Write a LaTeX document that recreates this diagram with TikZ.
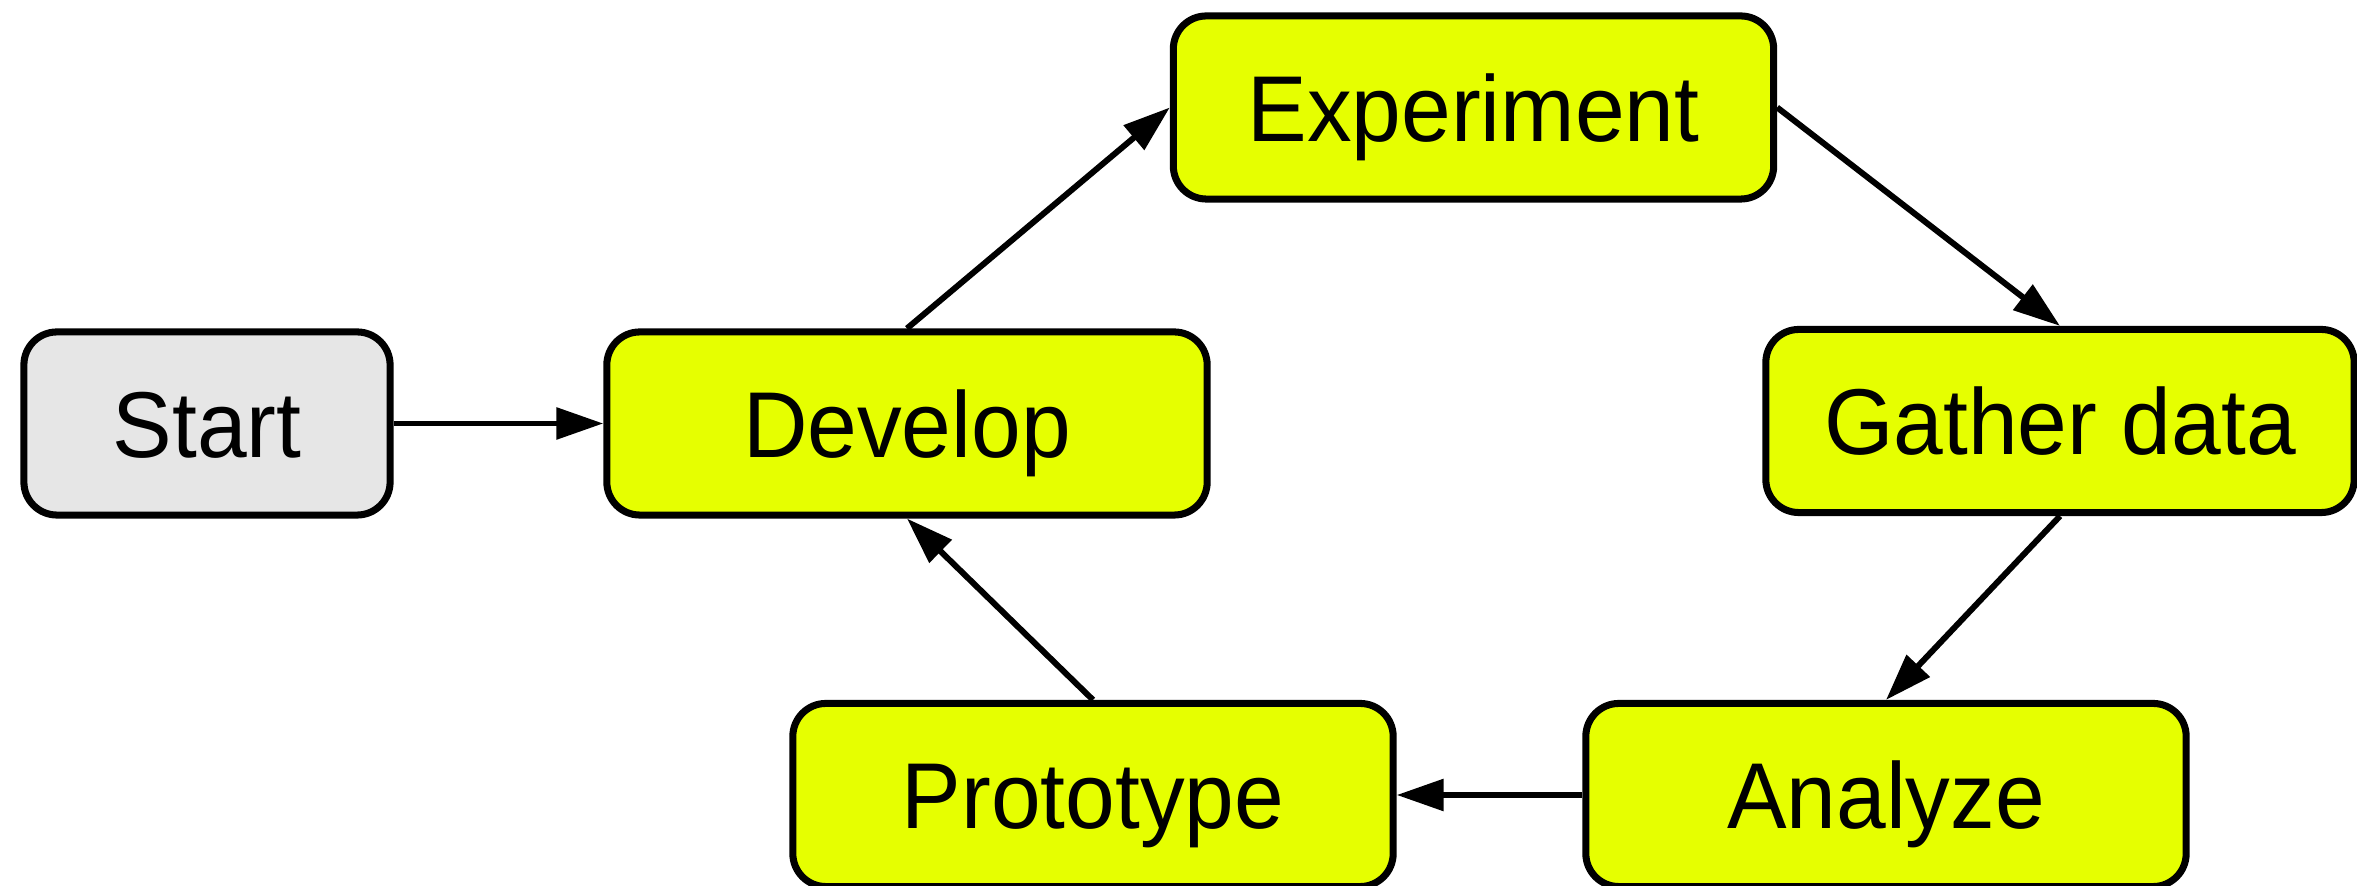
\documentclass[tikz,border=0pt]{standalone}
\usepackage{fontspec}
\setmainfont{Liberation Sans}
\newfontfamily\boxfont{Liberation Sans}[FakeStretch=0.955]
\usetikzlibrary{arrows.meta}
\definecolor{boxyellow}{RGB}{230,255,0}
\definecolor{boxgrey}{RGB}{230,230,230}
\tikzset{
  flowbox/.style={draw=black, line width=2pt, rounded corners=0.33cm, fill=boxyellow,
    minimum width=6.0cm, minimum height=1.83cm, inner sep=0pt,
    text height=19.1pt, text depth=0pt,
    font=\boxfont\fontsize{26.6pt}{30pt}\selectfont},
  startbox/.style={flowbox, fill=boxgrey, minimum width=3.66cm},
  conn/.style={draw=black, line width=1.7pt, -{Triangle[length=0.47cm,width=0.31cm]}}
}
\begin{document}
\begin{tikzpicture}[x=0.01cm,y=-0.01cm]
\useasboundingbox (0,0) rectangle (2357,886);
\node[startbox] (start) at (207,423.5) {Start};
\node[flowbox] (develop) at (907,423.5) {Develop};
\node[flowbox] (experiment) at (1473.5,107.5) {Experiment};
\node[flowbox, minimum width=5.88cm] (gather) at (2060,421) {Gather data};
\node[flowbox] (analyze) at (1886,795) {Analyze};
\node[flowbox] (prototype) at (1093,795) {Prototype};
\draw[conn] (start.east) -- (develop.west);
\draw[conn] (develop.north) -- (experiment.west);
\draw[conn] (experiment.east) -- (gather.north);
\draw[conn] (gather.south) -- (analyze.north);
\draw[conn] (analyze.west) -- (prototype.east);
\draw[conn] (prototype.north) -- (develop.south);
\end{tikzpicture}
\end{document}
